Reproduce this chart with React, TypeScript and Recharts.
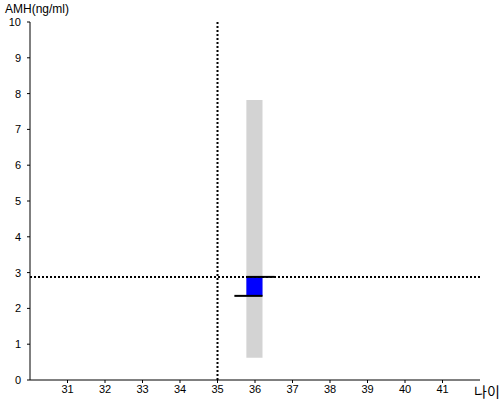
import {
  ComposedChart,
  XAxis,
  YAxis,
  ReferenceArea,
  ReferenceLine,
} from "recharts";

const FONT = "'Liberation Sans', Arial, sans-serif";

// axes
const X_TICKS = [31, 32, 33, 34, 35, 36, 37, 38, 39, 40, 41];
const Y_TICKS = [0, 1, 2, 3, 4, 5, 6, 7, 8, 9, 10];
const X_DOMAIN = [30, 42];
const Y_DOMAIN = [0, 10];

// patient age / AMH value (dotted crosshair)
const PATIENT_AGE = 35;
const PATIENT_AMH = 2.88;

// reference range for age group (gray band)
const RANGE_X = [35.77, 36.2];
const RANGE_Y = [0.62, 7.82];

// median box (blue) with its two edges
const BOX_X = [35.77, 36.2];
const BOX_Y = [2.35, 2.88];
const UPPER_LINE_X = [35.77, 36.52];
const LOWER_LINE_X = [35.45, 36.2];

export default function App() {
  return (
    <div style={{ position: "absolute", left: 0, top: 0, width: 500, height: 400, background: "#fff", fontFamily: FONT }}>
      <ComposedChart
        width={500}
        height={400}
        data={[]}
        margin={{ top: 22, right: 20, bottom: 0, left: 0 }}
      >
        <XAxis
          type="number"
          dataKey="x"
          domain={X_DOMAIN}
          ticks={X_TICKS}
          allowDataOverflow
          height={20}
          tickSize={3}
          tickMargin={2}
          stroke="#000"
          tick={{ fill: "#000", fontSize: 11, fontFamily: FONT }}
        />
        <YAxis
          type="number"
          domain={Y_DOMAIN}
          ticks={Y_TICKS}
          allowDataOverflow
          width={30}
          tickSize={3}
          tickMargin={6}
          stroke="#000"
          tick={{ fill: "#000", fontSize: 11, fontFamily: FONT }}
        />
        <ReferenceArea
          x1={RANGE_X[0]}
          x2={RANGE_X[1]}
          y1={RANGE_Y[0]}
          y2={RANGE_Y[1]}
          fill="#d3d3d3"
          fillOpacity={1}
          stroke="none"
        />
        <ReferenceArea
          x1={BOX_X[0]}
          x2={BOX_X[1]}
          y1={BOX_Y[0]}
          y2={BOX_Y[1]}
          fill="#0000ff"
          fillOpacity={1}
          stroke="none"
        />
        <ReferenceLine
          x={PATIENT_AGE}
          stroke="#000"
          strokeWidth={2}
          strokeDasharray="2 2"
        />
        <ReferenceLine
          y={PATIENT_AMH}
          stroke="#000"
          strokeWidth={2}
          strokeDasharray="2 2"
        />
        <ReferenceLine
          segment={[
            { x: UPPER_LINE_X[0], y: BOX_Y[1] },
            { x: UPPER_LINE_X[1], y: BOX_Y[1] },
          ]}
          stroke="#000"
          strokeWidth={2}
        />
        <ReferenceLine
          segment={[
            { x: LOWER_LINE_X[0], y: BOX_Y[0] },
            { x: LOWER_LINE_X[1], y: BOX_Y[0] },
          ]}
          stroke="#000"
          strokeWidth={2}
        />
        <text x={5} y={13} fontSize={12} fontFamily={FONT} fill="#000">
          AMH(ng/ml)
        </text>
        <text x={474} y={397} fontSize={14} fontFamily="'Noto Sans CJK KR', sans-serif" fill="#000">
          나이
        </text>
      </ComposedChart>
    </div>
  );
}
